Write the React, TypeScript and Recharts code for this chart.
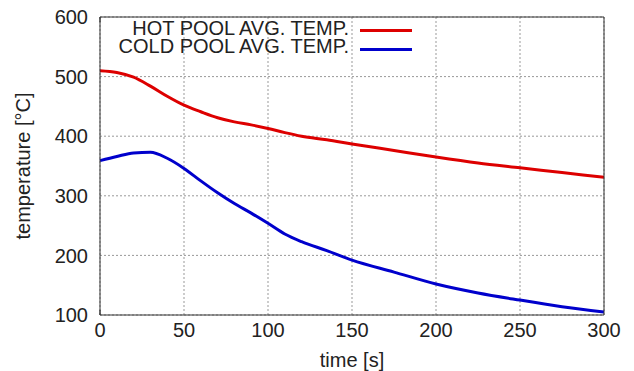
import { LineChart, Line, XAxis, YAxis, CartesianGrid, Legend } from "recharts";

// time [s]
const times = [0, 10, 20, 30, 40, 50, 60, 70, 80, 90, 100, 110, 120, 135, 150, 175, 200, 225, 250, 275, 300];
const hotPool = [510, 507, 499, 484, 467, 452, 441, 431, 424, 419, 413, 406, 400, 394, 387, 376, 365, 355, 347, 339, 331];
const coldPool = [359, 366, 372, 373, 363, 346, 325, 305, 287, 271, 254, 236, 223, 208, 192, 172, 152, 137, 125, 114, 105];

const xTicks = [0, 50, 100, 150, 200, 250, 300];
const yTicks = [100, 200, 300, 400, 500, 600];

const hotName = "HOT POOL AVG. TEMP.";
const coldName = "COLD POOL AVG. TEMP.";
const keyOrder = [hotName, coldName];

const data = times.map((t, i) => ({ t, hot: hotPool[i], cold: coldPool[i] }));

const font = "'Liberation Sans', Arial, sans-serif";
const tickFont = { fontSize: 20, fill: "#222", fontFamily: font };
const frame = { stroke: "#333", strokeWidth: 1 };
const blank = () => "";

function KeyBox({ payload }: any) {
    const items = [...(payload || [])].sort((a: any, b: any) => keyOrder.indexOf(a.value) - keyOrder.indexOf(b.value));
    return (
        <div style={{ fontFamily: font, fontSize: 20, color: "#222" }}>
            {items.map((p: any, i: number) => (
                <div key={p.value} style={{ display: "flex", alignItems: "flex-start", height: 17.5 }}>
                    <span style={{ width: 349, textAlign: "right", lineHeight: "17px", whiteSpace: "nowrap" }}>
                        {p.value}
                    </span>
                    <span style={{ marginLeft: 11, marginTop: 8.5 + i * 1.5, width: 52, height: 3, background: p.color }} />
                </div>
            ))}
        </div>
    );
}

export default function App() {
    return (
        <div style={{ position: "absolute", left: 0, top: 0 }}>
            <LineChart width={634} height={371} data={data} margin={{ top: 17, right: 30, bottom: 0, left: 0 }}>
                <CartesianGrid stroke="#999" strokeDasharray="2 2" xAxisId="main" yAxisId="main" />
                {/* labels */}
                <XAxis
                    xAxisId="main"
                    dataKey="t"
                    type="number"
                    domain={[0, 300]}
                    ticks={xTicks}
                    height={56}
                    tickSize={0}
                    tickMargin={8}
                    tickLine={false}
                    axisLine={frame}
                    tick={tickFont}
                    label={{ value: "time [s]", position: "insideBottom", offset: 4, style: { fontSize: 20, fill: "#222", fontFamily: font } }}
                />
                <YAxis
                    yAxisId="main"
                    type="number"
                    domain={[100, 600]}
                    ticks={yTicks}
                    width={100}
                    tickSize={0}
                    tickMargin={12}
                    tickLine={false}
                    axisLine={frame}
                    tick={tickFont}
                    label={{ value: "temperature [°C]", angle: -90, position: "insideLeft", offset: 23, style: { fontSize: 20, fill: "#222", fontFamily: font, textAnchor: "middle" } }}
                />
                {/* inward tick marks and frame on all four sides */}
                <XAxis xAxisId="bottomTicks" type="number" domain={[0, 300]} ticks={xTicks} mirror height={1} tickSize={5} tickLine={frame} axisLine={false} tickFormatter={blank} />
                <XAxis xAxisId="top" orientation="top" type="number" domain={[0, 300]} ticks={xTicks} mirror height={1} tickSize={5} tickLine={frame} axisLine={frame} tickFormatter={blank} />
                <YAxis yAxisId="leftTicks" type="number" domain={[100, 600]} ticks={yTicks} mirror width={1} tickSize={5} tickLine={frame} axisLine={false} tickFormatter={blank} />
                <YAxis yAxisId="right" orientation="right" type="number" domain={[100, 600]} ticks={yTicks} mirror width={1} tickSize={5} tickLine={frame} axisLine={frame} tickFormatter={blank} />
                <Legend
                    layout="horizontal"
                    verticalAlign="middle"
                    align="center"
                    wrapperStyle={{ left: 0, top: 20, width: 440 }}
                    content={KeyBox}
                />
                <Line xAxisId="main" yAxisId="main" type="monotone" dataKey="hot" name={hotName} stroke="#dd0000" strokeWidth={3} dot={false} isAnimationActive={false} />
                <Line xAxisId="main" yAxisId="main" type="monotone" dataKey="cold" name={coldName} stroke="#0000cc" strokeWidth={3} dot={false} isAnimationActive={false} />
            </LineChart>
        </div>
    );
}
